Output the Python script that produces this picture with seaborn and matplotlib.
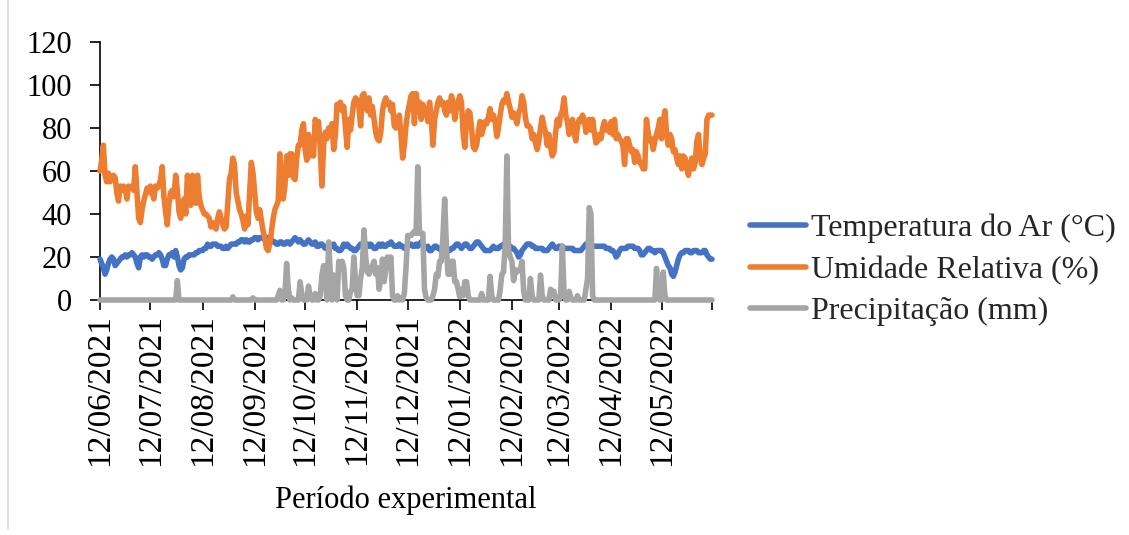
import matplotlib
matplotlib.use("Agg")
import matplotlib.pyplot as plt
import numpy as np
import pandas as pd
import seaborn as sns
from matplotlib.lines import Line2D

# Daily series starting on 12/06/2021
start_date = "2021-06-12"

temperatura = [
    19, 17, 15, 12, 14, 17, 19, 20, 19, 16,
    17, 18, 19, 20, 20, 21, 20, 21, 21, 22,
    21, 20, 17, 15, 20, 21, 20, 21, 21, 20,
    20, 19, 20, 21, 21, 22, 21, 19, 16, 16,
    19, 21, 21, 22, 20, 23, 20, 16, 14, 15,
    19, 20, 20, 21, 21, 21, 21, 22, 22, 23,
    23, 23, 24, 24, 26, 25, 25, 26, 26, 26,
    25, 25, 25, 24, 24, 25, 24, 25, 26, 26,
    26, 26, 27, 27, 28, 28, 27, 28, 27, 27,
    28, 28, 29, 29, 28, 29, 29, 29, 28, 29,
    29, 29, 28, 27, 27, 26, 26, 27, 27, 26,
    26, 27, 27, 26, 27, 28, 29, 28, 27, 28,
    27, 26, 26, 27, 28, 27, 26, 26, 27, 25,
    25, 26, 26, 25, 24, 25, 26, 26, 25, 26,
    24, 24, 23, 23, 24, 26, 25, 26, 25, 24,
    24, 23, 23, 24, 25, 26, 26, 25, 25, 26,
    25, 26, 25, 24, 24, 25, 26, 25, 26, 25,
    25, 26, 26, 27, 26, 25, 25, 25, 26, 25,
    25, 24, 24, 25, 26, 26, 25, 25, 26, 25,
    26, 27, 26, 24, 24, 25, 23, 23, 24, 25,
    25, 24, 24, 23, 23, 23, 24, 23, 23, 24,
    24, 25, 26, 26, 25, 24, 25, 26, 26, 25,
    24, 24, 25, 26, 27, 27, 26, 25, 24, 23,
    23, 23, 23, 24, 25, 24, 24, 24, 25, 25,
    26, 26, 25, 25, 25, 24, 24, 23, 22, 20,
    21, 23, 24, 25, 26, 26, 26, 25, 25, 24,
    24, 24, 24, 24, 23, 23, 23, 24, 25, 26,
    25, 24, 24, 25, 25, 25, 24, 24, 24, 24,
    24, 24, 23, 23, 23, 23, 23, 24, 25, 26,
    26, 25, 25, 25, 25, 25, 25, 25, 25, 25,
    25, 24, 24, 24, 23, 23, 22, 20, 21, 23,
    24, 24, 24, 24, 25, 25, 25, 25, 24, 24,
    24, 23, 21, 21, 22, 23, 24, 24, 23, 23,
    22, 23, 23, 23, 23, 22, 20, 18, 16, 15,
    12, 11, 13, 16, 19, 21, 22, 22, 23, 23,
    23, 22, 22, 23, 23, 23, 22, 22, 22, 23,
    23, 21, 20, 19, 19,
]

umidade = [
    60, 65, 72, 58, 55, 59, 55, 57, 58, 57,
    50, 46, 53, 51, 53, 52, 47, 53, 52, 53,
    51, 62, 50, 38, 36, 42, 46, 49, 52, 50,
    53, 50, 47, 53, 52, 53, 56, 62, 48, 41,
    35, 45, 50, 51, 48, 58, 51, 41, 38, 45,
    47, 40, 58, 50, 44, 58, 52, 45, 58, 48,
    44, 42, 40, 40, 39, 38, 34, 36, 34, 33,
    38, 41, 38, 35, 33, 34, 45, 56, 59, 66,
    63, 50, 46, 42, 40, 37, 33, 39, 35, 50,
    64, 59, 50, 41, 38, 42, 37, 32, 29, 24,
    23, 26, 32, 38, 42, 44, 46, 68, 53, 47,
    53, 67, 58, 68, 68, 57, 56, 66, 72, 72,
    79, 82, 70, 65, 77, 67, 73, 67, 84, 81,
    83, 70, 53, 72, 78, 75, 80, 78, 82, 70,
    77, 91, 89, 92, 88, 90, 80, 71, 84, 79,
    86, 92, 94, 93, 90, 81, 95, 96, 92, 88,
    94, 86, 90, 84, 78, 75, 74, 78, 88, 92,
    94, 91, 92, 88, 91, 81, 80, 83, 86, 77,
    66, 72, 81, 87, 91, 95, 96, 82, 96, 90,
    92, 84, 91, 86, 89, 83, 92, 85, 72, 84,
    88, 92, 94, 91, 92, 88, 86, 92, 88, 95,
    92, 84, 89, 92, 95, 92, 77, 71, 84, 88,
    87, 80, 71, 70, 72, 78, 83, 77, 80, 83,
    82, 85, 89, 84, 86, 83, 76, 80, 86, 91,
    93, 92, 96, 92, 89, 85, 87, 85, 82, 87,
    89, 95, 92, 85, 81, 81, 80, 75, 77, 73,
    70, 74, 80, 85, 81, 78, 72, 77, 71, 67,
    69, 78, 84, 81, 86, 88, 94, 86, 83, 77,
    81, 84, 78, 74, 81, 84, 83, 86, 84, 78,
    80, 84, 79, 84, 78, 73, 74, 77, 75, 80,
    83, 79, 81, 78, 83, 77, 84, 75, 77, 75,
    74, 72, 63, 75, 75, 72, 69, 70, 64, 69,
    67, 64, 63, 61, 61, 84, 78, 74, 75, 70,
    74, 77, 80, 84, 75, 83, 88, 77, 72, 77,
    75, 69, 70, 66, 63, 67, 61, 67, 66, 61,
    58, 63, 66, 61, 64, 74, 77, 66, 63, 66,
    68, 84, 86, 86, 86,
]

precipitacao = [
    0, 0, 0, 0, 0, 0, 0, 0, 0, 0,
    0, 0, 0, 0, 0, 0, 0, 0, 0, 0,
    0, 0, 0, 0, 0, 0, 0, 0, 0, 0,
    0, 0, 0, 0, 0, 0, 0, 0, 0, 0,
    0, 0, 0, 0, 0, 0, 9, 0, 0, 0,
    0, 0, 0, 0, 0, 0, 0, 0, 0, 0,
    0, 0, 0, 0, 0, 0, 0, 0, 0, 0,
    0, 0, 0, 0, 0, 0, 0, 0, 0, 1.5,
    0, 0, 0, 0, 0, 0, 0, 0, 0, 0,
    0, 1, 0, 0, 0, 0, 0, 0, 0, 0,
    0, 0, 0, 0, 0, 0, 2, 4.5, 0, 0,
    3, 17, 5, 0, 1, 0, 0, 0, 0, 8.5,
    3, 0, 0, 0, 6.5, 2, 0, 0, 3, 0,
    0, 2, 11.6, 16, 12, 0, 27, 12, 0, 11.6,
    5, 0, 18, 15, 18, 15, 2, 0, 0, 4,
    5, 20, 8, 2, 2, 10, 15, 32.6, 20, 13,
    12, 14, 16, 18, 12, 15, 5, 10, 19, 8.5,
    14, 20, 16, 20, 2, 0, 0, 2, 0, 1,
    0, 3, 15, 30, 30, 30, 31, 32, 31, 62,
    31, 31, 31, 5, 1, 0, 0, 0, 2, 5,
    12, 11, 18, 18, 30, 47, 25, 12, 12, 18,
    18, 8.5, 8.5, 5, 1.5, 5, 2, 8.5, 8.5, 2,
    0, 0, 0, 0, 0, 0, 0, 3, 0, 0,
    0, 0, 11, 2, 0, 0, 0, 0, 4.6, 12,
    13, 26, 67, 23, 20, 18, 9, 14, 13, 14,
    14, 18, 4, 0, 0, 0, 10, 2, 0, 0,
    0, 0, 11.6, 2, 0, 0, 0, 0, 5, 4,
    4, 0, 0, 0, 3, 25, 3, 0, 0, 4,
    1, 0, 0, 0, 2, 0, 0, 0, 0, 5,
    10, 43, 40, 2, 0, 0, 0, 0, 0, 0,
    0, 0, 0, 0, 0, 0, 0, 0, 0, 0,
    0, 0, 0, 0, 0, 0, 0, 0, 0, 0,
    0, 0, 0, 0, 0, 0, 0, 0, 0, 0,
    0, 14.7, 2, 0, 0, 13, 2, 0, 0, 0,
    0, 0, 0, 0, 0, 0, 0, 0, 0, 0,
    0, 0, 0, 0, 0, 0, 0, 0, 0, 0,
    0, 0, 0, 0, 0,
]

series_names = ["Temperatura do Ar (°C)", "Umidade Relativa (%)", "Precipitação (mm)"]
series_colors = ["#4472C4", "#ED7D31", "#A5A5A5"]
tick_months = ["2021-06-12", "2021-07-12", "2021-08-12", "2021-09-12", "2021-10-12",
               "2021-11-12", "2021-12-12", "2022-01-12", "2022-02-12", "2022-03-12",
               "2022-04-12", "2022-05-12"]

dates = pd.date_range(start_date, periods=len(temperatura), freq="D")
df = pd.DataFrame({
    "Data": dates,
    series_names[0]: temperatura,
    series_names[1]: umidade,
    series_names[2]: precipitacao,
})
long_df = df.melt(id_vars="Data", var_name="Serie", value_name="Valor")

sns.set_theme(style="white")
plt.rcParams["font.family"] = ["Liberation Serif", "DejaVu Serif"]

W, H = 1129, 535
fig = plt.figure(figsize=(W / 100, H / 100), dpi=100)
ax = fig.add_axes([100 / W, 1 - 300 / H, 612 / W, 258 / H])

sns.lineplot(
    data=long_df, x="Data", y="Valor", hue="Serie",
    hue_order=series_names, palette=dict(zip(series_names, series_colors)),
    linewidth=4.0, legend=False, ax=ax,
)
for ln in ax.lines:
    ln.set_clip_on(False)
    ln.set_zorder(3)
    ln.set_solid_joinstyle("round")
    ln.set_solid_capstyle("round")

ax.set_ylim(0, 120)
ax.set_yticks(np.arange(0, 121, 20))
ax.set_xlim(dates[0], dates[-1])

tick_dates = list(pd.to_datetime(tick_months)) + [dates[-1]]
tick_labels = [d.strftime("%d/%m/%Y") for d in pd.to_datetime(tick_months)] + [""]
ax.set_xticks(tick_dates)
ax.set_xticklabels(tick_labels, rotation=90)

for side in ["top", "right"]:
    ax.spines[side].set_visible(False)
for side in ["left", "bottom"]:
    ax.spines[side].set_color("black")
    ax.spines[side].set_linewidth(1.2)

ax.tick_params(axis="x", labelsize=24, length=7, width=1.2, color="black",
               direction="out", bottom=True, pad=3, labelcolor="black")
ax.tick_params(axis="y", labelsize=22, length=7, width=1.2, color="black",
               direction="out", left=True, pad=13, labelcolor="black")
ax.set_ylabel("")
ax.set_xlabel("Período experimental", fontsize=22, color="black", labelpad=14)
ax.grid(False)

handles = [Line2D([0], [0], color=c, lw=4, solid_capstyle="round") for c in series_colors]
fig.legend(handles, series_names, loc="center left",
           bbox_to_anchor=(750 / W, 1 - 270 / H), frameon=False,
           fontsize=23, handlelength=1.75, handletextpad=0.15,
           labelspacing=0.38, borderpad=0, borderaxespad=0)

fig.add_artist(Line2D([8 / W, 8 / W], [6 / H, 1], color="#D9D9D9", lw=1.2))

fig.savefig("out.png", dpi=100)
